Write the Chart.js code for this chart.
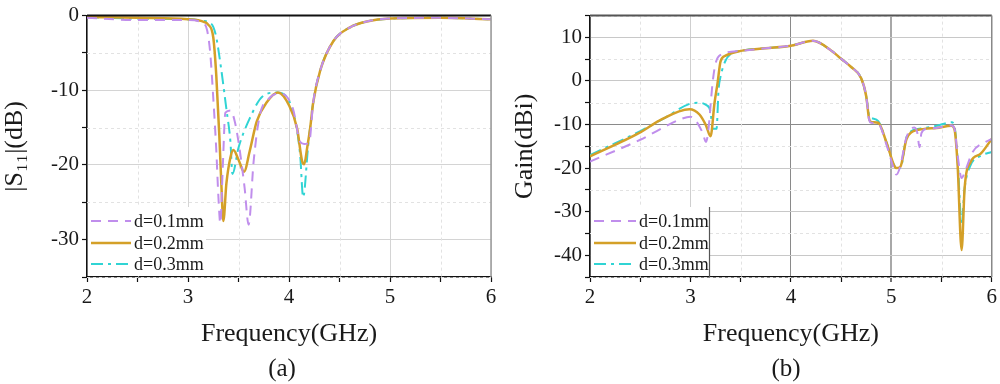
<!DOCTYPE html>
<html lang="en">
<head>
<meta charset="utf-8">
<title>S11 and Gain</title>
<style>
  body { margin: 0; background: #fff; }
  #wrap { position: relative; width: 1000px; height: 384px; overflow: hidden; }
  .pane { position: absolute; top: 0; width: 500px; height: 384px; }
  .cap { position: absolute; top: 355px; font: 25px "Liberation Serif", serif; color: #1a1a1a; transform: translateX(-50%); line-height: 26px; }
</style>
</head>
<body>
<div id="wrap">
  <div class="pane" style="left:0"><canvas id="s11Chart" width="500" height="384"></canvas></div>
  <div class="pane" style="left:500px"><canvas id="gainChart" width="500" height="384"></canvas></div>
  <div class="cap" style="left:282px">(a)</div>
  <div class="cap" style="left:786px">(b)</div>
</div>
<script src="https://cdn.jsdelivr.net/npm/chart.js@4.4.0/dist/chart.umd.min.js"></script>
<script>
// ---- data ----
var legendLabels = ['d=0.1mm', 'd=0.2mm', 'd=0.3mm'];

// (a) |S11| (dB)
var s11Freq1 = [2, 2.5, 3.0, 3.15, 3.19, 3.22, 3.25, 3.28, 3.3, 3.32, 3.345, 3.37, 3.42, 3.46, 3.5, 3.56, 3.6, 3.65, 3.71, 3.81, 3.91, 4.04, 4.11, 4.15, 4.2, 4.24, 4.31, 4.44, 4.6, 4.77, 5.0, 5.5, 6.0];
var s11Val1  = [-0.3, -0.6, -0.6, -1.0, -2, -5, -11, -18, -24, -27.8, -20, -13, -12.7, -14, -16.9, -23, -28, -19.5, -13.4, -11, -10.4, -12.5, -16.9, -17.2, -17, -11.6, -7.3, -3.4, -1.6, -0.8, -0.4, -0.3, -0.5];

var s11Freq2 = [2, 2.5, 3.0, 3.15, 3.2, 3.25, 3.28, 3.31, 3.33, 3.35, 3.38, 3.42, 3.45, 3.5, 3.555, 3.61, 3.68, 3.78, 3.89, 4.0, 4.08, 4.13, 4.15, 4.18, 4.21, 4.24, 4.31, 4.44, 4.6, 4.77, 5.0, 5.5, 6.0];
var s11Val2  = [-0.2, -0.3, -0.5, -0.8, -1.2, -2.9, -8, -16, -22.5, -27.5, -22.5, -19, -18, -19.3, -20.9, -18.2, -14.2, -11.6, -10.3, -12, -15.1, -19.5, -19.9, -17.7, -15, -11.6, -7.3, -3.4, -1.6, -0.8, -0.4, -0.3, -0.5];

var s11Freq3 = [2, 2.5, 3.0, 3.15, 3.22, 3.25, 3.28, 3.33, 3.38, 3.42, 3.44, 3.5, 3.61, 3.74, 3.88, 4.04, 4.11, 4.14, 4.19, 4.24, 4.31, 4.44, 4.6, 4.77, 5.0, 5.5, 6.0];
var s11Val3  = [-0.2, -0.4, -0.5, -0.7, -1.0, -1.5, -2.9, -7.3, -12.5, -16.9, -21.2, -17.7, -13.8, -10.8, -10.3, -12.9, -18.6, -24.3, -17.4, -11.6, -7.3, -3.4, -1.6, -0.8, -0.4, -0.3, -0.5];

// (b) Gain (dBi)
var gainFreq1 = [2, 2.5, 2.9, 3.0, 3.12, 3.155, 3.18, 3.2, 3.22, 3.25, 3.3, 3.5, 3.75, 4.0, 4.22, 4.4, 4.5, 4.6, 4.7, 4.75, 4.78, 4.8, 4.87, 4.95, 5.03, 5.05, 5.09, 5.15, 5.23, 5.26, 5.28, 5.3, 5.35, 5.45, 5.6, 5.63, 5.66, 5.7, 5.73, 5.81, 5.94, 6.0];
var gainVal1  = [-18.5, -13.5, -8.8, -8.2, -11.8, -14, -11, -5.7, -0.5, 4, 6, 6.9, 7.5, 8.1, 9.2, 7, 5.1, 3.2, 0.6, -3.5, -9, -9.6, -9.8, -14.5, -20.5, -21.5, -19.5, -13, -10.7, -12, -15.2, -12, -11, -10.8, -10.2, -11, -17, -22.3, -21, -16.3, -14, -13.3];

var gainFreq2 = [2, 2.5, 2.69, 2.99, 3.09, 3.155, 3.2, 3.24, 3.27, 3.3, 3.35, 3.5, 3.75, 4.0, 4.22, 4.4, 4.5, 4.6, 4.7, 4.75, 4.78, 4.8, 4.87, 4.95, 5.03, 5.05, 5.09, 5.15, 5.2, 5.33, 5.45, 5.6, 5.63, 5.66, 5.7, 5.73, 5.79, 5.89, 6.0];
var gainVal2  = [-17.3, -11.8, -9.1, -6.5, -7.7, -10.2, -12.7, -5, -0.5, 4.5, 5.8, 6.9, 7.5, 8.1, 9.2, 7, 5.1, 3.2, 0.6, -3.5, -8.8, -9.4, -9.6, -14, -19.5, -20, -19.7, -13.4, -11.8, -11, -10.8, -10.3, -11.2, -19.3, -38.8, -24.6, -18.6, -16.7, -13.3];

var gainFreq3 = [2, 2.5, 2.75, 3.0, 3.09, 3.155, 3.2, 3.22, 3.26, 3.28, 3.3, 3.35, 3.4, 3.5, 3.75, 4.0, 4.22, 4.4, 4.5, 4.6, 4.7, 4.75, 4.78, 4.8, 4.87, 4.95, 5.03, 5.05, 5.09, 5.15, 5.2, 5.33, 5.45, 5.6, 5.63, 5.66, 5.7, 5.73, 5.79, 5.89, 6.0];
var gainVal3  = [-17, -11.5, -8.4, -5.2, -5, -5.5, -7, -11, -11, -2, 1, 4.7, 6.2, 6.9, 7.5, 8.1, 9.2, 7, 5.1, 3.2, 0.6, -3.5, -8, -8.5, -9.2, -14, -19.5, -20, -20, -13, -11.5, -10.8, -10.3, -9.5, -10.5, -18, -32.8, -24.6, -19.3, -17.2, -16.3];

// ---- styles ----
var purple = 'rgb(192,142,236)';
var gold = 'rgb(212,160,40)';
var cyan = 'rgb(48,212,212)';
var serif = '"Liberation Serif", "Times New Roman", serif';

function pts(xs, ys) {
  return xs.map(function (x, i) { return { x: x, y: ys[i] }; });
}

function makeSets(f1, v1, f2, v2, f3, v3) {
  var base = { pointRadius: 0, fill: false, cubicInterpolationMode: 'monotone' };
  return [
    Object.assign({ label: legendLabels[0], data: pts(f1, v1), borderColor: purple, borderWidth: 2, borderDash: [10, 7] }, base),
    Object.assign({ label: legendLabels[1], data: pts(f2, v2), borderColor: gold, borderWidth: 2.5, borderDash: [] }, base),
    Object.assign({ label: legendLabels[2], data: pts(f3, v3), borderColor: cyan, borderWidth: 2, borderDash: [12, 5, 3, 5] }, base)
  ];
}

// dashed minor grid, frame on top/right, legend box in the lower left
var extras = {
  id: 'extras',
  beforeDatasetsDraw: function (chart, args, o) {
    var ctx = chart.ctx, a = chart.chartArea, xs = chart.scales.x, ys = chart.scales.y;
    ctx.save();
    ctx.setLineDash([3, 3]);
    ctx.strokeStyle = '#e2e2e2';
    ctx.lineWidth = 1;
    xs.ticks.forEach(function (t) {
      if (Math.abs(t.value - Math.round(t.value)) < 1e-6) return;
      var px = Math.round(xs.getPixelForValue(t.value)) + 0.5;
      ctx.beginPath(); ctx.moveTo(px, a.top); ctx.lineTo(px, a.bottom); ctx.stroke();
    });
    ys.ticks.forEach(function (t) {
      if (t.value % 10 === 0) return;
      var py = Math.round(ys.getPixelForValue(t.value)) + 0.5;
      ctx.beginPath(); ctx.moveTo(a.left, py); ctx.lineTo(a.right, py); ctx.stroke();
    });
    ctx.restore();
  },
  afterDatasetsDraw: function (chart, args, o) {
    var ctx = chart.ctx, a = chart.chartArea;
    ctx.save();
    // legend
    ctx.fillStyle = '#fff';
    ctx.fillRect(a.left + 1, a.bottom - 70, o.legendW, 69);
    if (o.legendEdge) {
      ctx.strokeStyle = '#555';
      ctx.lineWidth = 1.2;
      ctx.beginPath();
      ctx.moveTo(a.left + o.legendW + 0.5, a.bottom - 70);
      ctx.lineTo(a.left + o.legendW + 0.5, a.bottom);
      ctx.stroke();
    }
    var rows = [56, 34, 13];
    chart.data.datasets.forEach(function (ds, i) {
      var y = a.bottom - rows[i];
      ctx.strokeStyle = ds.borderColor;
      ctx.lineWidth = ds.borderWidth;
      ctx.setLineDash(ds.borderDash);
      ctx.beginPath();
      ctx.moveTo(a.left + 4, y);
      ctx.lineTo(a.left + o.sampleW, y);
      ctx.stroke();
      ctx.setLineDash([]);
      ctx.fillStyle = '#1a1a1a';
      ctx.font = '18px ' + serif;
      ctx.textBaseline = 'middle';
      ctx.fillText(ds.label, a.left + o.sampleW + 3, y + 1);
    });
    // frame
    ctx.strokeStyle = o.topColor;
    ctx.lineWidth = 2;
    ctx.beginPath(); ctx.moveTo(a.left, a.top); ctx.lineTo(a.right, a.top); ctx.stroke();
    ctx.strokeStyle = o.rightColor;
    ctx.lineWidth = 1.5;
    ctx.beginPath(); ctx.moveTo(a.right, a.top); ctx.lineTo(a.right, a.bottom); ctx.stroke();
    ctx.restore();
  }
};

function makeOptions(cfg) {
  return {
    responsive: false,
    animation: false,
    layout: { padding: { top: 11, right: cfg.padRight, left: 0, bottom: 34 } },
    plugins: {
      legend: { display: false },
      tooltip: { enabled: false },
      extras: cfg.extras
    },
    scales: {
      x: {
        type: 'linear', min: 2, max: 6,
        afterFit: function (s) { s.height = 73; },
        ticks: {
          stepSize: 0.5, padding: 3, color: '#1a1a1a', maxRotation: 0, autoSkip: false,
          font: { family: serif, size: 21 },
          callback: function (v) { return Math.abs(v - Math.round(v)) < 1e-6 ? String(Math.round(v)) : ''; }
        },
        grid: {
          color: function (c) {
            var v = c.tick ? c.tick.value : 0;
            if (Math.abs(v - Math.round(v)) > 1e-6) return 'rgba(0,0,0,0)';
            return cfg.xGrid(v);
          },
          lineWidth: function (c) { return c.tick && cfg.xWidth ? cfg.xWidth(c.tick.value) : 1; },
          tickColor: '#111', tickLength: 5, tickWidth: 1.2
        },
        border: { color: '#111', width: 1.5 },
        title: { display: true, text: 'Frequency(GHz)', color: '#1a1a1a', font: { family: serif, size: 26 }, padding: { top: 0, bottom: 0 } }
      },
      y: {
        min: cfg.yMin, max: cfg.yMax,
        afterFit: function (s) { s.width = cfg.yWidth; },
        ticks: {
          stepSize: 5, padding: 3, color: '#1a1a1a', autoSkip: false,
          font: { family: serif, size: 21 },
          callback: function (v) { return v % 10 === 0 ? String(v) : ''; }
        },
        grid: {
          color: function (c) {
            var v = c.tick ? c.tick.value : 0;
            if (v % 10 !== 0) return 'rgba(0,0,0,0)';
            return cfg.yGrid(v);
          },
          tickColor: '#111', tickLength: 5, tickWidth: 1.2
        },
        border: { color: '#111', width: 1.5 },
        title: { display: true, text: cfg.yTitle, color: '#1a1a1a', font: { family: serif, size: 26 }, padding: { top: cfg.yTitlePad, bottom: 0 } }
      }
    }
  };
}

new Chart(document.getElementById('s11Chart'), {
  type: 'line',
  data: { datasets: makeSets(s11Freq1, s11Val1, s11Freq2, s11Val2, s11Freq3, s11Val3) },
  options: makeOptions({
    padRight: 9, yWidth: 87, yMin: -35, yMax: 0, yTitle: '|S\u2081\u2081|(dB)', yTitlePad: 0,
    xGrid: function (v) { return '#d4d4d4'; },
    yGrid: function (v) { return '#d4d4d4'; },
    extras: { legendW: 118, sampleW: 44, legendEdge: false, topColor: '#111', rightColor: '#9a9a9a' }
  }),
  plugins: [extras]
});

new Chart(document.getElementById('gainChart'), {
  type: 'line',
  data: { datasets: makeSets(gainFreq1, gainVal1, gainFreq2, gainVal2, gainFreq3, gainVal3) },
  options: makeOptions({
    padRight: 6, yWidth: 90, yMin: -45, yMax: 15, yTitle: 'Gain(dBi)', yTitlePad: 10,
    xGrid: function (v) { return v === 3 ? '#cfcfcf' : v === 4 ? '#8a8a8a' : '#a8a8a8'; },
    xWidth: function (v) { return v === 5 ? 2 : 1; },
    yGrid: function (v) { return v === -10 ? '#8a8a8a' : '#c8c8c8'; },
    extras: { legendW: 119, sampleW: 46, legendEdge: true, topColor: '#555', rightColor: '#888' }
  }),
  plugins: [extras]
});
</script>
</body>
</html>
